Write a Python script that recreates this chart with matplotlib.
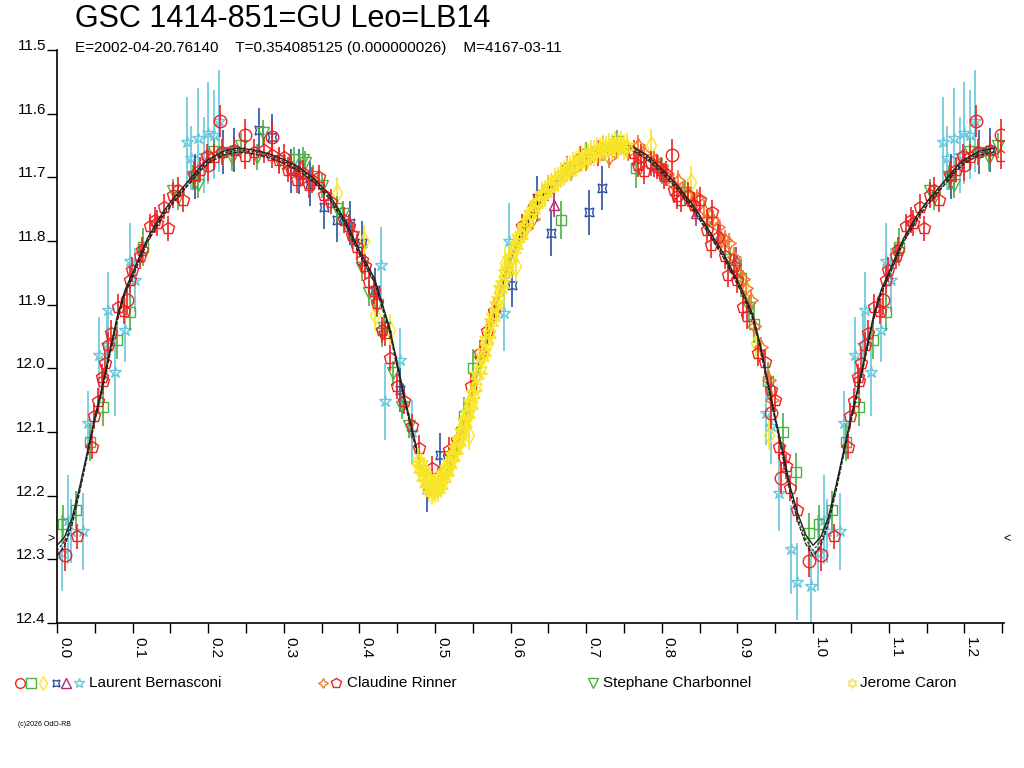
import matplotlib.pyplot as plt
from matplotlib.lines import Line2D
import numpy as np

plt.rcParams['font.family'] = ['Liberation Sans', 'DejaVu Sans']

# fitted light curve (one cycle)
model_phase = [0.00, 0.01, 0.02, 0.03, 0.04, 0.05, 0.06, 0.07, 0.08, 0.09,
               0.10, 0.11, 0.12, 0.13, 0.14, 0.15, 0.16, 0.17, 0.18, 0.19,
               0.20, 0.22, 0.24, 0.26, 0.28, 0.30, 0.32, 0.34, 0.36, 0.38,
               0.40, 0.42, 0.44, 0.46, 0.48, 0.49, 0.50, 0.51, 0.52, 0.53,
               0.54, 0.55, 0.56, 0.57, 0.58, 0.59, 0.60, 0.62, 0.64, 0.66,
               0.68, 0.70, 0.72, 0.74, 0.76, 0.78, 0.80, 0.82, 0.84, 0.86,
               0.88, 0.90, 0.91, 0.92, 0.93, 0.94, 0.95, 0.96, 0.97, 0.98, 0.99]
model_mag = [12.286, 12.272, 12.240, 12.190, 12.135, 12.080, 12.030, 11.975, 11.920, 11.880,
             11.853, 11.825, 11.798, 11.778, 11.758, 11.742, 11.728, 11.714, 11.700, 11.686,
             11.675, 11.662, 11.657, 11.660, 11.666, 11.675, 11.687, 11.705, 11.730, 11.768,
             11.818, 11.862, 11.940, 12.050, 12.150, 12.178, 12.186, 12.175, 12.155, 12.120,
             12.078, 12.035, 11.990, 11.948, 11.905, 11.862, 11.828, 11.775, 11.735, 11.706,
             11.685, 11.668, 11.657, 11.650, 11.654, 11.668, 11.690, 11.715, 11.745, 11.782,
             11.820, 11.865, 11.890, 11.918, 11.965, 12.023, 12.080, 12.135, 12.192, 12.235, 12.268]
model_spread = [0.008, 0.007, 0.005, 0.004, 0.003, 0.003, 0.003, 0.003, 0.003, 0.003,
                0.003, 0.003, 0.003, 0.003, 0.003, 0.003, 0.003, 0.003, 0.003, 0.003,
                0.003, 0.003, 0.003, 0.003, 0.003, 0.003, 0.003, 0.003, 0.003, 0.003,
                0.003, 0.003, 0.003, 0.003, 0.003, 0.003, 0.003, 0.003, 0.003, 0.003,
                0.003, 0.003, 0.003, 0.003, 0.003, 0.003, 0.003, 0.003, 0.003, 0.003,
                0.003, 0.003, 0.003, 0.003, 0.003, 0.003, 0.003, 0.003, 0.003, 0.003,
                0.003, 0.003, 0.003, 0.003, 0.003, 0.003, 0.003, 0.004, 0.005, 0.006, 0.007]

# Claudine Rinner - pentagons
rin_p_phase = [0.027, 0.046, 0.049, 0.054, 0.059, 0.061, 0.064, 0.068, 0.072, 0.081,
               0.089, 0.097, 0.099, 0.110, 0.112, 0.123, 0.130, 0.132, 0.141, 0.147,
               0.154, 0.160, 0.166, 0.181, 0.189, 0.198, 0.207, 0.218, 0.234, 0.249,
               0.260, 0.274, 0.284, 0.293, 0.300, 0.306, 0.309, 0.317, 0.322, 0.326,
               0.333, 0.337, 0.346, 0.353, 0.362, 0.379, 0.386, 0.390, 0.397, 0.404,
               0.408, 0.412, 0.419, 0.423, 0.430, 0.434, 0.441, 0.450, 0.459, 0.470,
               0.479, 0.496, 0.518, 0.529, 0.547, 0.560, 0.569, 0.578, 0.615, 0.631,
               0.649, 0.675, 0.692, 0.715, 0.763, 0.768, 0.772, 0.777, 0.785, 0.794,
               0.799, 0.803, 0.805, 0.816, 0.820, 0.825, 0.835, 0.843, 0.851, 0.860,
               0.865, 0.866, 0.874, 0.883, 0.887, 0.896, 0.900, 0.907, 0.913, 0.927,
               0.936, 0.944, 0.949, 0.955, 0.961, 0.964, 0.969, 0.979]
rin_p_mag = [12.264, 12.123, 12.075, 12.051, 12.013, 12.020, 11.991, 11.963, 11.944, 11.903,
             11.910, 11.861, 11.845, 11.824, 11.814, 11.777, 11.767, 11.772, 11.746, 11.780,
             11.728, 11.720, 11.735, 11.696, 11.688, 11.667, 11.668, 11.660, 11.657, 11.667,
             11.660, 11.657, 11.665, 11.673, 11.668, 11.688, 11.686, 11.704, 11.695, 11.693,
             11.712, 11.704, 11.700, 11.728, 11.738, 11.767, 11.777, 11.790, 11.809, 11.830,
             11.840, 11.864, 11.879, 11.898, 11.940, 11.945, 11.984, 12.028, 12.052, 12.091,
             12.125, 12.157, 12.128, 12.112, 12.028, 11.976, 11.942, 11.910, 11.777, 11.746,
             11.717, 11.686, 11.670, 11.662, 11.662, 11.680, 11.668, 11.690, 11.678, 11.683,
             11.688, 11.698, 11.694, 11.720, 11.730, 11.735, 11.727, 11.743, 11.735, 11.783,
             11.806, 11.755, 11.793, 11.824, 11.853, 11.840, 11.861, 11.903, 11.918, 11.976,
             11.990, 12.034, 12.049, 12.123, 12.140, 12.154, 12.188, 12.222]

# Claudine Rinner - four point stars
rin_s_phase = [0.620, 0.630, 0.680, 0.700, 0.720, 0.730, 0.740, 0.755, 0.768, 0.777,
               0.790, 0.795, 0.807, 0.815, 0.821, 0.828, 0.834, 0.840, 0.847, 0.856,
               0.860, 0.867, 0.874, 0.878, 0.883, 0.889, 0.896, 0.900, 0.907, 0.911,
               0.918, 0.922, 0.931, 0.942, 0.946]
rin_s_mag = [11.780, 11.765, 11.690, 11.675, 11.660, 11.670, 11.655, 11.660, 11.649, 11.662,
             11.673, 11.680, 11.694, 11.710, 11.704, 11.720, 11.728, 11.740, 11.733, 11.751,
             11.765, 11.767, 11.778, 11.800, 11.798, 11.803, 11.825, 11.848, 11.860, 11.874,
             11.892, 11.934, 11.966, 12.018, 12.050]

# Laurent Bernasconi - six filters
lb_o_phase = [0.011, 0.093, 0.200, 0.216, 0.249, 0.284, 0.814, 0.944, 0.958, 0.995]
lb_o_mag = [12.293, 11.892, 11.680, 11.612, 11.633, 11.636, 11.665, 12.070, 12.172, 12.303]

lb_s_phase = [0.008, 0.025, 0.043, 0.061, 0.079, 0.097, 0.114, 0.538, 0.550, 0.666,
              0.766, 0.905, 0.922, 0.940, 0.960, 0.977, 0.994]
lb_s_mag = [12.244, 12.223, 12.116, 12.060, 11.955, 11.911, 11.810, 12.075, 12.000, 11.767,
            11.686, 11.858, 11.930, 12.020, 12.100, 12.163, 12.258]

lb_d_phase = [0.370, 0.406, 0.421, 0.441, 0.545, 0.570, 0.593, 0.607, 0.785, 0.838,
              0.907, 0.925, 0.942]
lb_d_mag = [11.725, 11.800, 11.916, 11.940, 12.104, 11.960, 11.835, 11.840, 11.649, 11.707,
            11.870, 11.960, 12.104]

lb_x_phase = [0.183, 0.220, 0.234, 0.267, 0.284, 0.310, 0.320, 0.335, 0.353, 0.370,
              0.388, 0.404, 0.420, 0.454, 0.489, 0.507, 0.602, 0.635, 0.653, 0.704, 0.721]
lb_x_mag = [11.699, 11.660, 11.657, 11.626, 11.636, 11.690, 11.691, 11.710, 11.746, 11.767,
            11.772, 11.803, 11.877, 12.034, 12.190, 12.136, 11.869, 11.733, 11.788, 11.755, 11.717]

lb_t_phase = [0.657, 0.790, 0.845, 0.877, 0.898]
lb_t_mag = [11.743, 11.680, 11.756, 11.790, 11.830]

lb_star_phase = [0.006, 0.015, 0.018, 0.035, 0.041, 0.055, 0.066, 0.068, 0.077, 0.090,
                 0.097, 0.103, 0.172, 0.177, 0.187, 0.194, 0.200, 0.207, 0.214, 0.428,
                 0.434, 0.454, 0.470, 0.591, 0.598, 0.938, 0.944, 0.955, 0.971, 0.979, 0.997]
lb_star_mag = [12.290, 12.238, 12.255, 12.256, 12.086, 11.979, 11.963, 11.908, 12.005, 11.940,
               11.832, 11.861, 11.644, 11.670, 11.639, 11.665, 11.631, 11.633, 11.612, 11.838,
               12.052, 11.987, 12.100, 11.913, 11.800, 12.070, 12.090, 12.196, 12.284, 12.335, 12.342]
lb_star_err = [0.06, 0.07, 0.05, 0.06, 0.05, 0.06, 0.05, 0.06, 0.07, 0.05,
               0.06, 0.05, 0.07, 0.05, 0.08, 0.06, 0.08, 0.07, 0.08, 0.06,
               0.06, 0.05, 0.05, 0.06, 0.06, 0.05, 0.06, 0.06, 0.07, 0.06, 0.06]

# Stephane Charbonnel
sc_phase = [0.154, 0.160, 0.180, 0.187, 0.207, 0.220, 0.232, 0.244, 0.264, 0.273,
            0.293, 0.313, 0.326, 0.328, 0.338, 0.350, 0.370, 0.378, 0.392, 0.403,
            0.412, 0.423, 0.430, 0.433, 0.445, 0.456, 0.466, 0.520, 0.560, 0.600,
            0.700, 0.722, 0.740, 0.800, 0.830, 0.860, 0.890, 0.915]
sc_mag = [11.722, 11.732, 11.700, 11.712, 11.660, 11.662, 11.670, 11.650, 11.668, 11.630,
          11.675, 11.672, 11.672, 11.678, 11.700, 11.713, 11.749, 11.757, 11.793, 11.843,
          11.882, 11.900, 11.946, 11.936, 12.008, 12.060, 12.090, 12.140, 11.990, 11.830,
          11.665, 11.655, 11.645, 11.690, 11.725, 11.772, 11.830, 11.905]

# Jerome Caron
jc_phase = [0.478, 0.480, 0.482, 0.484, 0.486, 0.488, 0.490, 0.492, 0.494, 0.496,
            0.498, 0.500, 0.502, 0.504, 0.506, 0.508, 0.510, 0.512, 0.514, 0.516,
            0.518, 0.520, 0.522, 0.524, 0.526, 0.528, 0.530, 0.532, 0.534, 0.536,
            0.538, 0.540, 0.542, 0.544, 0.546, 0.548, 0.550, 0.553, 0.556, 0.559,
            0.562, 0.565, 0.568, 0.571, 0.574, 0.577, 0.580, 0.583, 0.586, 0.589,
            0.592, 0.595, 0.598, 0.601, 0.604, 0.607, 0.610, 0.614, 0.618, 0.622,
            0.626, 0.630, 0.634, 0.638, 0.642, 0.646, 0.650, 0.654, 0.658, 0.662,
            0.666, 0.670, 0.674, 0.678, 0.682, 0.686, 0.690, 0.694, 0.698, 0.702,
            0.706, 0.710, 0.714, 0.718, 0.722, 0.726, 0.730, 0.734, 0.738, 0.742,
            0.746, 0.750, 0.754]
jc_mag = [12.145, 12.158, 12.150, 12.170, 12.162, 12.180, 12.172, 12.190, 12.182, 12.195,
          12.185, 12.192, 12.180, 12.190, 12.176, 12.183, 12.168, 12.172, 12.158, 12.163,
          12.148, 12.150, 12.138, 12.140, 12.126, 12.128, 12.113, 12.116, 12.100, 12.102,
          12.085, 12.086, 12.070, 12.072, 12.055, 12.057, 12.040, 12.030, 12.010, 12.002,
          11.982, 11.975, 11.955, 11.946, 11.928, 11.920, 11.900, 11.893, 11.875, 11.868,
          11.850, 11.845, 11.830, 11.826, 11.812, 11.806, 11.795, 11.790, 11.778, 11.770,
          11.758, 11.752, 11.742, 11.738, 11.727, 11.724, 11.716, 11.713, 11.705, 11.703,
          11.696, 11.694, 11.688, 11.686, 11.680, 11.679, 11.673, 11.672, 11.667, 11.667,
          11.662, 11.662, 11.657, 11.658, 11.653, 11.655, 11.650, 11.652, 11.648, 11.651,
          11.647, 11.652, 11.650]

RED = '#ee2222'
ORANGE = '#f07828'
GREEN = '#4cb043'
BLUE = '#2f4fa0'
CYAN = '#66c8dc'
YELLOW = '#f8e52a'
MAGENTA = '#b02878'


def wrap(ph, mg, err):
    # phases below 0.25 are shown again after phase 1
    ph = np.asarray(ph, dtype=float)
    mg = np.asarray(mg, dtype=float)
    err = np.broadcast_to(np.asarray(err, dtype=float), ph.shape)
    m = ph < 0.255
    return (np.concatenate([ph, ph[m] + 1]), np.concatenate([mg, mg[m]]),
            np.concatenate([err, err[m]]))


fig = plt.figure(figsize=(10.24, 7.68), dpi=100)
ax = fig.add_axes([57 / 1024, 1 - 623 / 768, (1004 - 57) / 1024, (623 - 50) / 768])

series = [
    (lb_star_phase, lb_star_mag, lb_star_err, '*', CYAN, 9),
    (lb_x_phase, lb_x_mag, 0.035, (4, 1, 45), BLUE, 9),
    (lb_t_phase, lb_t_mag, 0.02, '^', MAGENTA, 7),
    (lb_s_phase, lb_s_mag, 0.03, 's', GREEN, 7),
    (lb_d_phase, lb_d_mag, 0.025, 'd', YELLOW, 9),
    (sc_phase, sc_mag, 0.02, 'v', GREEN, 8),
    (rin_s_phase, rin_s_mag, 0.015, (4, 1, 0), ORANGE, 10),
    (rin_p_phase, rin_p_mag, 0.02, 'p', RED, 9),
    (lb_o_phase, lb_o_mag, 0.025, 'o', RED, 9),
]

for ph, mg, err, mk, col, ms in series:
    x, y, e = wrap(ph, mg, err)
    ax.errorbar(x, y, yerr=e, fmt='none', ecolor=col, elinewidth=1.2)
    ax.plot(x, y, ls='none', marker=mk, mfc='none', mec=col, ms=ms, mew=1.0)

# model curve with its spread
mx, my, ms_ = wrap(model_phase, model_mag, model_spread)
ax.plot(mx, my - ms_, color='#222222', lw=1.0)
ax.plot(mx, my + ms_, color='#222222', lw=1.0, ls=(0, (3, 1)))
ax.plot(mx, my, color='#222222', lw=0.8, ls=(0, (2, 2)))

x, y, e = wrap(jc_phase, jc_mag, 0.02)
ax.errorbar(x, y, yerr=e, fmt='none', ecolor=YELLOW, elinewidth=1.2, zorder=4)
ax.plot(x, y, ls='none', marker=(6, 1, 0), mfc='none', mec=YELLOW, ms=11, mew=1.2, zorder=4)

ax.set_xlim(0, 1.2525)
ax.set_ylim(12.4, 11.5)
for s in ['top', 'right']:
    ax.spines[s].set_visible(False)
for s in ['left', 'bottom']:
    ax.spines[s].set_linewidth(1.2)

xt = np.arange(0, 1.21, 0.1)
ax.set_xticks(xt, ['%.1f' % v for v in xt], rotation=-90, ha='left', va='top', fontsize=11)
ax.set_xticks(np.arange(0.05, 1.26, 0.1), minor=True)
yt = np.arange(11.5, 12.41, 0.1)
ax.set_yticks(yt, ['%.1f' % v for v in yt], va='baseline', fontsize=11)
ax.tick_params(axis='both', which='both', direction='out', length=7, width=1.0)
ax.tick_params(axis='x', which='both', pad=3)
ax.tick_params(axis='y', pad=1)

yx = ax.get_yaxis_transform()
ax.text(-0.006, 12.268, '>', transform=yx, ha='center', va='center', fontsize=9)
ax.text(1.003, 12.268, '<', transform=yx, ha='center', va='center', fontsize=9)

fig.text(75 / 1024, 1 - 19 / 768, 'GSC 1414-851=GU Leo=LB14', fontsize=22, va='center')
fig.text(75 / 1024, 1 - 48 / 768,
         'E=2002-04-20.76140    T=0.354085125 (0.000000026)    M=4167-03-11',
         fontsize=11, va='center')

# legend row
ly = 1 - 683 / 768
legend_marks = [
    (20, 'o', RED), (31, 's', GREEN), (43, 'd', YELLOW), (56, (4, 1, 45), BLUE),
    (66, '^', MAGENTA), (79, '*', CYAN),
    (323, (4, 1, 0), ORANGE), (336, 'p', RED),
    (593, 'v', GREEN),
    (852, (6, 1, 0), YELLOW),
]
for px, mk, col in legend_marks:
    fig.add_artist(Line2D([px / 1024], [ly], marker=mk, ls='none', mfc='none',
                          mec=col, ms=7, mew=1.0, transform=fig.transFigure))
for px, name in [(89, 'Laurent Bernasconi'), (347, 'Claudine Rinner'),
                 (603, 'Stephane Charbonnel'), (860, 'Jerome Caron')]:
    fig.text(px / 1024, ly, name, fontsize=11, va='center')

fig.text(18 / 1024, 1 - 724 / 768, '(c)2026 OdO-RB', fontsize=5, va='center')

fig.savefig('out.png', dpi=100)
